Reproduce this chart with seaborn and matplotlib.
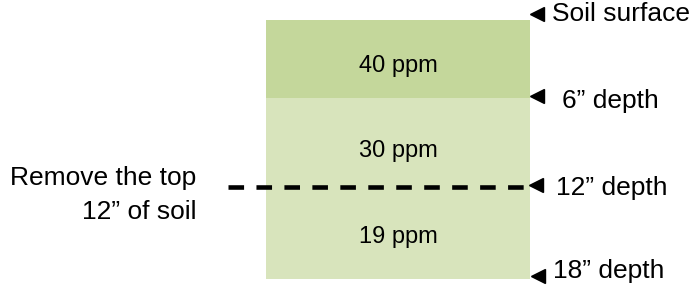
import matplotlib
matplotlib.use("Agg")
import matplotlib.pyplot as plt
import seaborn as sns
import pandas as pd

# ---- data ----
layer_labels = ["40 ppm", "30 ppm", "19 ppm"]
layer_ppm = [40, 30, 19]
layer_colors = ["#C4D79B", "#D8E4BC", "#D8E4BC"]
# drawn depth of each layer's bottom (diagram units)
layer_bottom = [6.0, 12.8, 19.9]
layer_text_base = [4.0, 10.53, 17.13]

marker_labels = ["Soil surface", "6\u201d depth", "12\u201d depth", "18\u201d depth"]
marker_depth = [0, 6, 12, 18]
marker_pos = [-0.46, 5.84, 12.68, 19.67]
label_base = [0.08, 6.76, 13.45, 19.82]
label_dx = [22, 32, 26, 23]          # px from bar right edge
marker_dx = [7, 7, 6, 8]

cut_depth_pos = 12.83
cut_text = ["Remove the top", "12\u201d of soil"]
cut_text_base = [12.68, 15.29]

sns.set_theme(style="white")
plt.rcParams["font.family"] = ["Liberation Sans", "DejaVu Sans"]

fig = plt.figure(figsize=(6.95, 2.88), dpi=100)
ax = fig.add_axes([0, 0, 1, 1])

PX = 1 / 330.0           # x data units per pixel
bar_w = 264 * PX
cx = 0.0
left_edge, right_edge = cx - bar_w / 2, cx + bar_w / 2

# stacked column drawn deepest-first so shallower layers overlay
for i in reversed(range(len(layer_labels))):
    df = pd.DataFrame({"col": ["soil"], "depth": [layer_bottom[i]]})
    sns.barplot(data=df, x="col", y="depth", color=layer_colors[i],
                saturation=1, width=bar_w, ax=ax, linewidth=0, zorder=2)

for lab, yb in zip(layer_labels, layer_text_base):
    ax.text(cx, yb, lab, ha="center", va="baseline",
            fontsize=17, color="black", zorder=5)

# dashed cut line
ax.plot([left_edge - 38 * PX, right_edge - 2 * PX], [cut_depth_pos, cut_depth_pos],
        color="black", lw=3.3, dashes=(3.4, 2.7), zorder=4,
        dash_capstyle="butt")

# depth markers and labels
for lab, mp, lb, dx, mdx in zip(marker_labels, marker_pos, label_base, label_dx, marker_dx):
    ax.plot([right_edge + mdx * PX], [mp], marker="<", color="black",
            markersize=9.5, linestyle="none", zorder=5, clip_on=False)
    ax.text(right_edge + dx * PX, lb, lab, ha="left", va="baseline",
            fontsize=19, color="black")

for txt, yb in zip(cut_text, cut_text_base):
    ax.text(left_edge - 70 * PX, yb, txt, ha="right", va="baseline",
            fontsize=19, color="black")

ax.set_xlim(-398 * PX, (695 - 398) * PX)
scale = (279 - 20) / 19.9
ax.set_ylim(19.9 + 9 / scale, -20 / scale)
ax.set_axis_off()

fig.savefig("out.png", dpi=100)
